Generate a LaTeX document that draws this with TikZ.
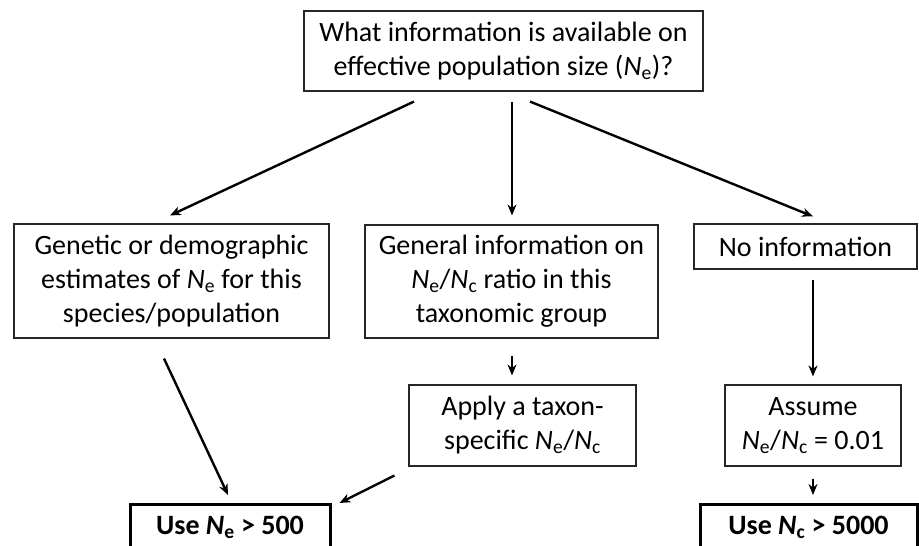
\documentclass[tikz,border=0pt]{standalone}
\usepackage{fontspec}
\setmainfont{Carlito}
\usetikzlibrary{arrows.meta,calc}
\newcommand{\Nsub}[1]{\textit{N}\textsubscript{#1}}
\begin{document}
\begin{tikzpicture}[x=1pt,y=-1pt,
  box/.style={draw=black!85,line width=1.1pt,align=center,inner sep=0pt,
    font=\fontsize{28}{34}\selectfont},
  bbox/.style={draw=black,line width=3pt,align=center,inner sep=0pt,
    font=\fontsize{28}{34}\selectfont\bfseries},
  arr/.style={line width=2.4pt,-{Stealth[length=11pt,width=9pt]}}]
\useasboundingbox (0,0) rectangle (919,546);
\clip (0,0) rectangle (919,546);
\node[box,minimum width=399,minimum height=80] (top) at (503.5,51)
  {What information is available on\\effective population size (\Nsub{e})?};
\node[box,minimum width=315,minimum height=114] (left) at (171.5,281)
  {Genetic or demographic\\estimates of \Nsub{e} for this\\species/population};
\node[box,minimum width=293,minimum height=113] (mid) at (511.5,281.5)
  {General information on\\\Nsub{e}/\Nsub{c} ratio in this\\taxonomic group};
\node[box,minimum width=223,minimum height=45] (noinfo) at (805.5,246.5)
  {No information};
\node[box,minimum width=227,minimum height=81] (apply) at (522.5,425.5)
  {Apply a taxon-\\specific \Nsub{e}/\Nsub{c}};
\node[box,minimum width=176,minimum height=81] (assume) at (813,425.5)
  {Assume\\\Nsub{e}/\Nsub{c} = 0.01};
\node[bbox,minimum width=200,minimum height=46,anchor=north] (usene) at (230,503)
  {Use \Nsub{e} > 500};
\node[bbox,minimum width=217,minimum height=46,anchor=north] (usenc) at (808.5,503)
  {Use \Nsub{c} > 5000};
\draw[arr] ($(top.south)+(-89.5,10)$) -- ($(left.north)+(-1.5,-8)$);
\draw[arr] ($(top.south)+(8.5,10)$) -- ($(mid.north)+(0.5,-9)$);
\draw[arr] ($(top.south)+(26.5,10)$) -- ($(noinfo.north)+(7.5,-7)$);
\draw[arr] ($(mid.south)+(0.5,17)$) -- ($(apply.north)+(-10.5,-9)$);
\draw[arr] ($(left.south)+(-7.5,20)$) -- ($(usene.north)+(-2,-8)$);
\draw[arr] ($(apply.south west)+(-14,9)$) -- ($(usene.north east)+(8,0)$);
\draw[arr] ($(noinfo.south)+(7.5,10)$) -- ($(assume.north)+(0,-8)$);
\draw[arr] ($(assume.south)+(0,12)$) -- ($(usenc.north)+(4.5,-8)$);
\end{tikzpicture}
\end{document}
